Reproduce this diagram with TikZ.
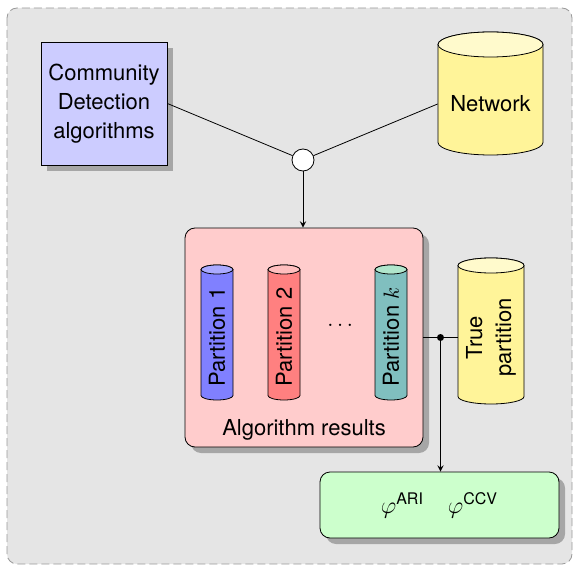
\documentclass[tikz,border=0pt]{standalone}
\usepackage{amsmath}
\usepackage{fontspec}
\setmainfont{TeX Gyre Heros}
\usetikzlibrary{shadows,calc,arrows}

\definecolor{netbody}{RGB}{255,244,153}
\definecolor{nettop}{RGB}{255,250,204}
\definecolor{onetop}{RGB}{170,170,255}
\definecolor{twotop}{RGB}{255,190,190}
\definecolor{ktop}{RGB}{176,230,204}

\tikzset{
	shadowed/.style={drop shadow={fill=black!35,opacity=1,shadow xshift=3pt,shadow yshift=-3pt}},
	algbox/.style={draw,shadowed,align=center,rounded corners=5pt},
	drumtext/.style={align=center,inner sep=0pt},
}

% drum: centre x, centre y, half width, half height, end radius, body colour, top colour
\newcommand{\drum}[7]{%
	\filldraw[fill=#6] ({#1-#3},{#2-#4+#5}) -- ({#1-#3},{#2+#4-#5}) arc (180:0:#3 and #5) -- ({#1+#3},{#2-#4+#5}) arc (360:180:#3 and #5) -- cycle;
	\filldraw[fill=#7] (#1,{#2-#4+#5}) ellipse (#3 and #5);
}
\newcommand{\supsf}[1]{\text{\fontsize{8}{9}\selectfont #1}}

\begin{document}
\begin{tikzpicture}[x=0.5pt,y=-0.5pt,font=\fontsize{11}{14.5}\selectfont,>=stealth]
	\useasboundingbox (0,0) rectangle (573,567);
	%BACKGROUND
	\draw[black!40,fill=black!10,dash pattern=on 4pt off 2pt,rounded corners=5pt] (7,8) rectangle (572,564);
	
	%INPUTS
	\node[draw,shadowed,align=center,fill=blue!20,minimum width=63pt,minimum height=61.5pt] (cda) at (104,103.5) {Community\\Detection\\algorithms};
	\drum{490.5}{93.5}{52.5}{61.5}{12.5}{netbody}{nettop}
	\node[drumtext,minimum width=52.5pt] (net) at (490.5,104) {Network};
	\node[draw,circle,fill=white,minimum size=11pt,inner sep=0pt] (junc) at (303,160) {};
	
	%RESULTS
	\node[algbox,fill=red!20,minimum width=119pt,minimum height=109.5pt] (res) at (304,337.5) {};
	\drum{217}{332.5}{16}{67.5}{4.5}{blue!50}{onetop}
	\drum{284}{332.5}{16}{67.5}{4.5}{red!50}{twotop}
	\drum{391}{332.5}{16}{67.5}{4.5}{teal!50}{ktop}
	\node[drumtext,rotate=90] (p1) at (217,337) {Partition 1};
	\node[drumtext,rotate=90] (p2) at (284,337) {Partition 2};
	\node (dots) at (342,325) {$\dots$};
	\node[drumtext,rotate=90] (pk) at (391,337) {Partition $k$};
	\node (reslabel) at (304,430) {Algorithm results};
	
	\drum{491}{331}{33}{73}{7.5}{netbody}{nettop}
	\node[drumtext,rotate=90,minimum height=33pt] (tp) at (491,337.5) {True\\partition};
	
	%MEASURES
	\node[algbox,fill=green!20,minimum width=119.5pt,minimum height=33pt,font=\fontsize{13}{15}\selectfont] (score) at (439.5,505) {$\varphi^{\supsf{ARI}}\hspace{12pt}\varphi^{\supsf{CCV}}$};
	
	%CONNECTORS
	\draw (cda.east) -- (junc);
	\draw (junc) -- (net.west);
	\draw[->] (junc) -- (junc |- res.north);
	\draw (res.east) -- (res.east -| tp.north);
	\node[circle,fill,inner sep=0pt,minimum size=3.5pt] (split) at ($(res.east)!0.5!(res.east -| tp.north)$) {};
	\draw[->] (split) -- (split |- score.north);
\end{tikzpicture}
\end{document}
